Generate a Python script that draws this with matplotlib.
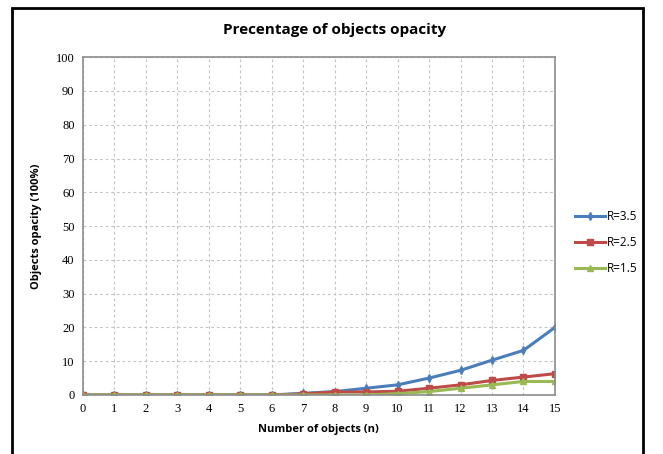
import matplotlib
matplotlib.use("Agg")
import matplotlib.pyplot as plt
from matplotlib.patches import Rectangle

# Data
n_objects = list(range(16))
r35 = [0, 0, 0, 0, 0, 0, 0, 0.5, 1.0, 2.0, 3.0, 5.0, 7.3, 10.3, 13.2, 20.0]
r25 = [0, 0, 0, 0, 0, 0, 0, 0.3, 0.9, 0.9, 1.1, 2.0, 3.0, 4.3, 5.3, 6.3]
r15 = [0, 0, 0, 0, 0, 0, 0, 0, 0, 0, 0.4, 1.0, 2.0, 3.0, 4.0, 4.0]

series = [
    ("R=3.5", r35, "#4a7ebb", "d"),
    ("R=2.5", r25, "#be4b48", "s"),
    ("R=1.5", r15, "#98b954", "^"),
]

fig = plt.figure(figsize=(6.63, 4.54), dpi=100)
ax = fig.add_axes([0.125, 0.130, 0.712, 0.744])

for label, vals, color, marker in series:
    ax.plot(n_objects, vals, color=color, marker=marker, markersize=4,
            linewidth=2.2, label=label)

ax.set_xlim(0, 15)
ax.set_ylim(0, 100)
ax.set_xticks(range(0, 16))
ax.set_yticks(range(0, 101, 10))
ax.grid(True, color="#c4c4c4", linestyle=(0, (2.5, 2.5)), linewidth=0.8)
for s in ax.spines.values():
    s.set_color("#8c8c8c")
    s.set_linewidth(1.2)
ax.tick_params(length=0, labelsize=9, pad=6)
for t in ax.get_xticklabels() + ax.get_yticklabels():
    t.set_family("Liberation Serif")

ax.set_xlabel("Number of objects (n)", fontsize=8, fontweight="bold",
              family="Open Sans", labelpad=6)
ax.set_ylabel("Objects opacity (100%)", fontsize=8, fontweight="bold",
              family="Open Sans", labelpad=10)
fig.text(0.505, 0.935, "Precentage of objects opacity", ha="center",
         va="center", fontsize=11, fontweight="bold", family="Open Sans")

ax.legend(loc="center left", bbox_to_anchor=(1.02, 0.45), frameon=False,
          handlelength=2.5, labelspacing=1.1, handletextpad=0.2,
          prop={"family": "Open Sans", "size": 8.5})

# outer chart frame
fig.patches.append(Rectangle((12 / 663, -0.05), (643 - 12) / 663, 1.05 - 8 / 454,
                             transform=fig.transFigure, fill=False,
                             edgecolor="black", linewidth=2))

fig.savefig("out.png", dpi=100)
